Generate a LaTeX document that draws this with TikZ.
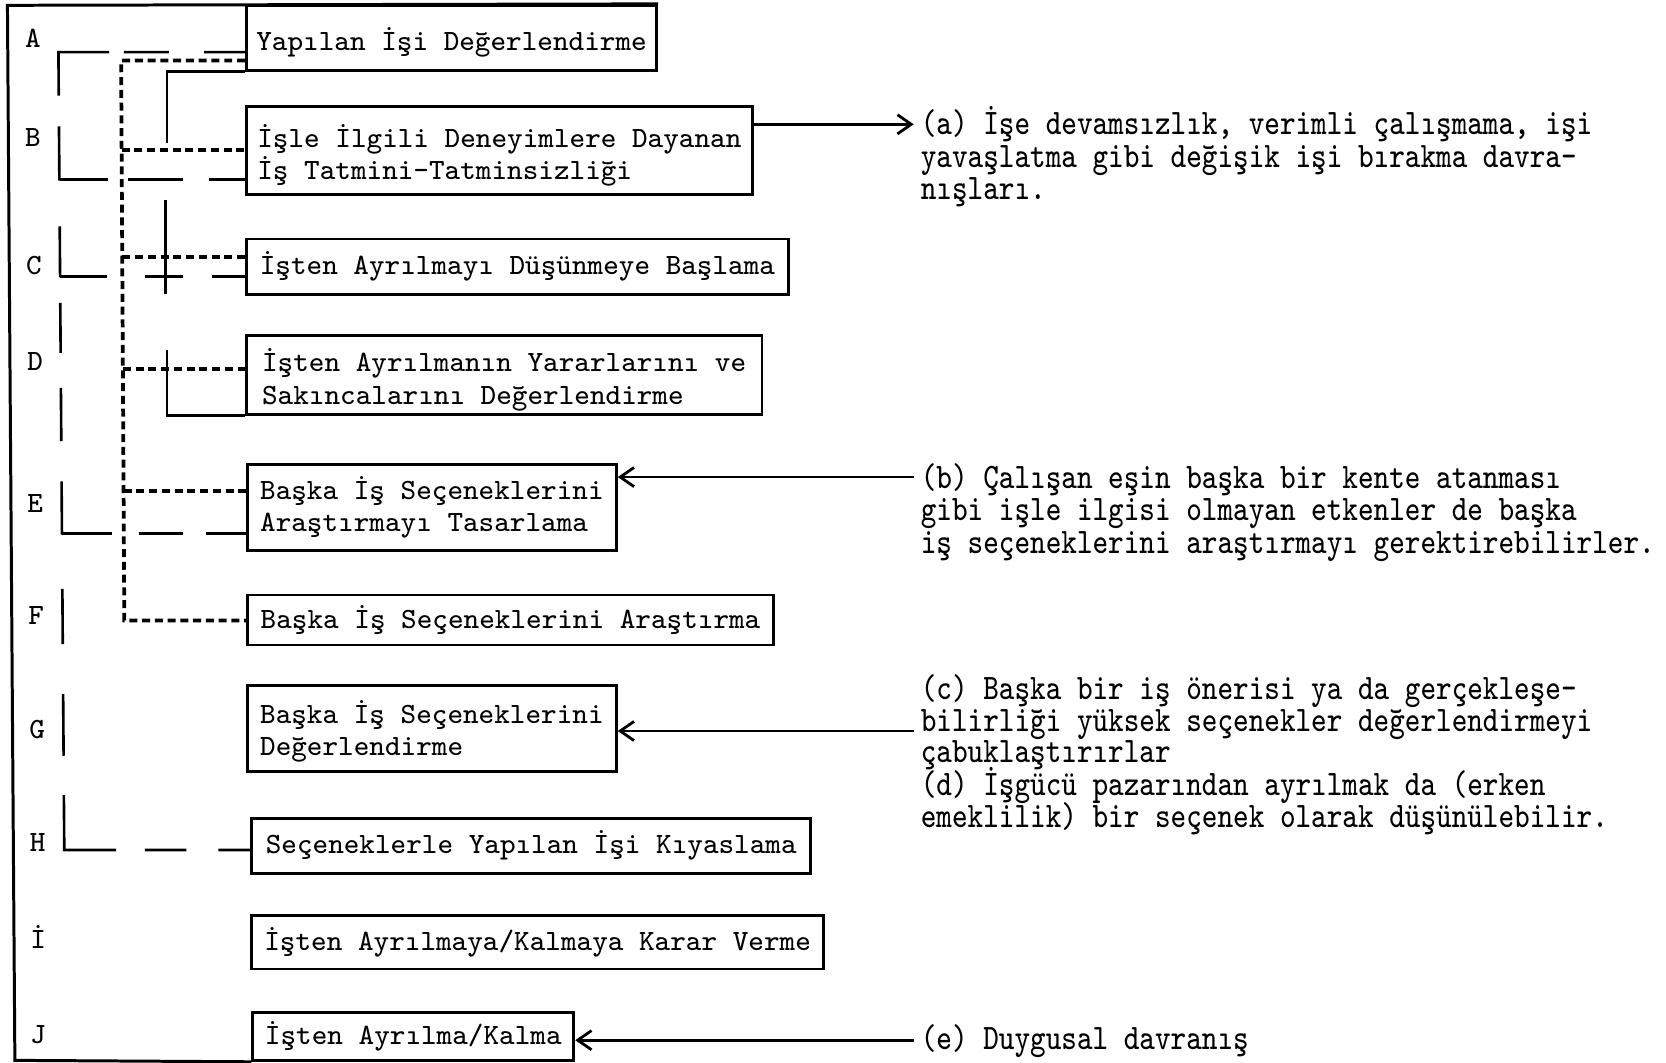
\documentclass[tikz,border=0pt]{standalone}
\usepackage{graphicx}
\usetikzlibrary{arrows.meta}

% typewriter lettering used throughout
\newcommand{\twfont}{\ttfamily\fontsize{7.87pt}{8.6pt}\selectfont}
% the notes on the right are set a little taller than they are wide
\newcommand{\talltext}[1]{\scalebox{1}[1.22]{#1}}
% lower one line of box text without changing its box size
\newcommand{\dropline}[2]{\raisebox{-#1}[\height][\depth]{#2}}

\tikzset{
  stage/.style={draw, line width=0.75pt, inner sep=0pt, align=left, font=\twfont},
  lbl/.style={inner sep=0pt, font=\twfont},
  note/.style={anchor=base west, inner xsep=0.06cm, inner ysep=0pt, font=\twfont},
  outerframe/.style={line width=0.8pt},
  solidlink/.style={line width=0.7pt},
  dotlink/.style={line width=1pt, dash pattern=on 0.075cm off 0.045cm},
  longdash/.style={line width=0.7pt},
  feed/.style={line width=0.75pt, -{Straight Barb[length=0.13cm,width=0.18cm]}},
}

\begin{document}
\begin{tikzpicture}[x=0.01cm, y=-0.01cm]
\useasboundingbox (0,0) rectangle (1568,1000);

% ---- stages of the process ----
\node[stage, minimum width=3.86cm, minimum height=0.61cm] (A) at (425,35.5)
  {\dropline{0.04cm}{Yapılan İşi Değerlendirme}};
\node[stage, minimum width=4.76cm, minimum height=0.83cm] (B) at (470,141.5)
  {\dropline{0.05cm}{İşle İlgili Deneyimlere Dayanan}\\
   \dropline{0.05cm}{İş Tatmini-Tatminsizliği}};
\node[stage, minimum width=5.10cm, minimum height=0.52cm] (C) at (487,251)
  {İşten Ayrılmayı Düşünmeye Başlama};
\node[stage, minimum width=4.85cm, minimum height=0.74cm] (D) at (474.5,353)
  {\dropline{0.045cm}{İşten Ayrılmanın Yararlarını ve}\\
   \dropline{0.045cm}{Sakıncalarını Değerlendirme}};
\node[stage, minimum width=3.47cm, minimum height=0.81cm] (E) at (406.5,477.5)
  {Başka İş Seçeneklerini\\Araştırmayı Tasarlama};
\node[stage, minimum width=4.95cm, minimum height=0.47cm] (F) at (480.5,583.5)
  {Başka İş Seçeneklerini Araştırma};
\node[stage, minimum width=3.47cm, minimum height=0.81cm] (G) at (406.5,685.5)
  {\dropline{0.03cm}{Başka İş Seçeneklerini}\\
   \dropline{0.03cm}{Değerlendirme}};
\node[stage, minimum width=5.26cm, minimum height=0.52cm] (H) at (500,796)
  {Seçeneklerle Yapılan İşi Kıyaslama};
\node[stage, minimum width=5.38cm, minimum height=0.50cm] (I) at (506,887)
  {İşten Ayrılmaya/Kalmaya Karar Verme};
\node[stage, minimum width=3.02cm, minimum height=0.45cm] (J) at (389,975.5)
  {İşten Ayrılma/Kalma};

% ---- step letters ----
\node[lbl] (LA) at (31,36)  {A};
\node[lbl] (LB) at (31,129) {B};
\node[lbl] (LC) at (32,250) {C};
\node[lbl] (LD) at (33,340) {D};
\node[lbl] (LE) at (33,474) {E};
\node[lbl] (LF) at (34,579) {F};
\node[lbl] (LG) at (35,687) {G};
\node[lbl] (LH) at (35.5,793) {H};
\node[lbl] (LI) at (36,882) {İ};
\node[lbl] (LJ) at (36,974) {J};

% ---- enclosing frame ----
\draw[outerframe] (A.north east) -- (7,5) -- (14,998) -- (J.south west);

% ---- long-dash spine from A down to H ----
\draw[longdash, dash pattern=on 0.385cm off 0.33cm on 0.424cm off 0.14cm
  on 0.885cm off 0.29cm on 0.51cm off 0.43cm on 0.48cm off 0.24cm
  on 0.47cm off 0.33cm on 0.50cm off 0.38cm on 0.50cm off 0.51cm
  on 0.52cm off 0.47cm on 0.58cm off 0.37cm on 1.005cm off 0.27cm
  on 0.39cm off 0.30cm on 0.33cm off 0.02cm]
  (A.west |- 0,49) -- (55,49) -- (60.5,800) -- (H.west |- 0,800);
\draw[longdash, dash pattern=on 0.34cm off 0.24cm on 0.52cm off 0.185cm on 0.475cm off 0.02cm]
  (B.west |- 0,169) -- (56,169);
\draw[longdash, dash pattern=on 0.31cm off 0.27cm on 0.36cm off 0.36cm on 0.455cm off 0.02cm]
  (C.west |- 0,260) -- (56.5,260);
\draw[longdash, dash pattern=on 0.375cm off 0.22cm on 0.41cm off 0.26cm on 0.49cm off 0.02cm]
  (E.west |- 0,502) -- (58.3,502);

% ---- short-dash spine from A down to F ----
\draw[dotlink] (A.west |- 0,57) -- (114,57) -- (117,584) -- (F.west |- 0,584);
\draw[dotlink] (114.5,141) -- (B.west |- 0,141);
\draw[dotlink] (115.1,242) -- (C.west |- 0,242);
\draw[dotlink] (115.7,347) -- (D.west |- 0,347);
\draw[dotlink] (116.3,462) -- (E.west |- 0,462);

% ---- solid side links ----
\coordinate (bc1) at (156,188);
\coordinate (bc2) at (156,277);
\draw[solidlink] (A.south west) -| (157,135);
\draw[solidlink] (bc1) -- (bc2);
\draw[solidlink] (D.south west) -| (157,329);

% ---- notes ----
\node[note] (a1) at (860,127) {\talltext{(a) İşe devamsızlık, verimli çalışmama, işi}};
\node[note] (a2) at (860,158) {\talltext{yavaşlatma gibi değişik işi bırakma davra-}};
\node[note] (a3) at (860,188) {\talltext{nışları.}};

\node[note] (b1) at (860,460) {\talltext{(b) Çalışan eşin başka bir kente atanması}};
\node[note] (b2) at (860,490) {\talltext{gibi işle ilgisi olmayan etkenler de başka}};
\node[note] (b3) at (860,521) {\talltext{iş seçeneklerini araştırmayı gerektirebilirler.}};

\node[note] (c1) at (860,658) {\talltext{(c) Başka bir iş önerisi ya da gerçekleşe-}};
\node[note] (c2) at (860,688) {\talltext{bilirliği yüksek seçenekler değerlendirmeyi}};
\node[note] (c3) at (860,718) {\talltext{çabuklaştırırlar}};
\node[note] (d1) at (860,749) {\talltext{(d) İşgücü pazarından ayrılmak da (erken}};
\node[note] (d2) at (860,779) {\talltext{emeklilik) bir seçenek olarak düşünülebilir.}};

\node[note] (e1) at (860,988) {\talltext{(e) Duygusal davranış}};

% ---- arrows between notes and stages ----
\draw[feed] (B.east |- 0,117) -- (a1.base west |- 0,117);
\draw[feed] (b1.base west |- 0,449) -- (E.east |- 0,449);
\draw[feed] (c2.base west |- 0,688) -- (G.east |- 0,688);
\draw[feed] (e1.base west |- 0,979) -- (J.east |- 0,979);
\end{tikzpicture}
\end{document}
